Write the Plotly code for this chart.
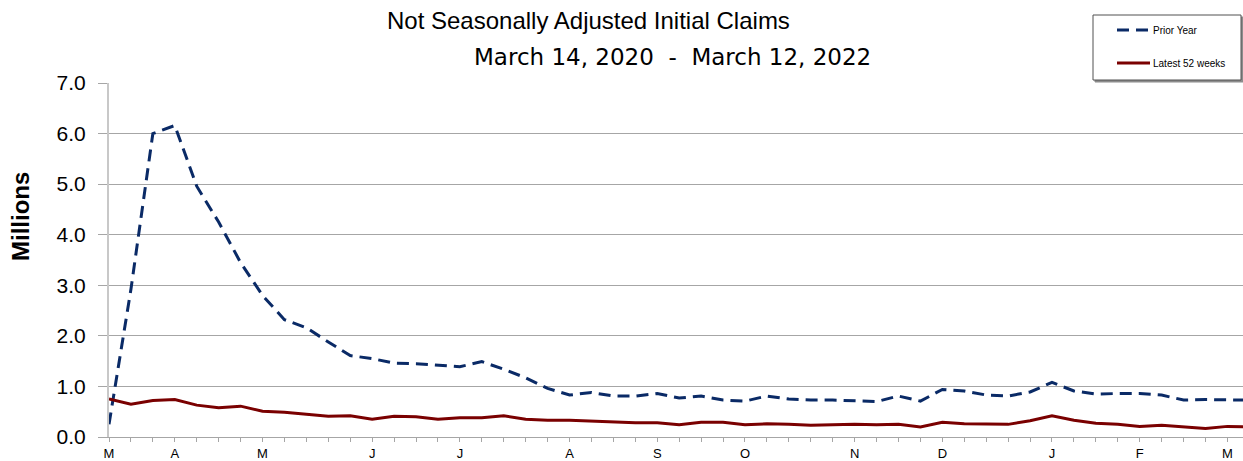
import plotly.graph_objects as go

# week index (0 = week ending Mar 13/14) ; 53 weekly points per series
weeks = list(range(53))

prior_year = [0.25, 2.92, 6.00, 6.16, 4.96, 4.25, 3.45, 2.80, 2.32, 2.16,
              1.88, 1.61, 1.55, 1.46, 1.45, 1.42, 1.39, 1.49, 1.34, 1.17,
              0.96, 0.83, 0.88, 0.81, 0.81, 0.86, 0.77, 0.81, 0.73, 0.71,
              0.81, 0.75, 0.73, 0.73, 0.71, 0.70, 0.81, 0.71, 0.94, 0.91,
              0.83, 0.81, 0.89, 1.08, 0.91, 0.85, 0.86, 0.86, 0.83, 0.73,
              0.74, 0.73, 0.73]

latest_52 = [0.75, 0.65, 0.72, 0.74, 0.63, 0.58, 0.61, 0.51, 0.49, 0.45,
             0.41, 0.42, 0.35, 0.41, 0.40, 0.35, 0.38, 0.38, 0.42, 0.35,
             0.33, 0.33, 0.31, 0.29, 0.28, 0.28, 0.24, 0.29, 0.29, 0.24,
             0.26, 0.25, 0.23, 0.24, 0.25, 0.24, 0.25, 0.20, 0.29, 0.26,
             0.25, 0.25, 0.32, 0.42, 0.33, 0.27, 0.25, 0.21, 0.23, 0.20,
             0.17, 0.21, 0.20]

series_names = ["Prior Year", "Latest 52 weeks"]

month_tick_weeks = [0, 3, 7, 12, 16, 21, 25, 29, 34, 38, 43, 47, 51]
month_tick_labels = ["M", "A", "M", "J", "J", "A", "S", "O", "N", "D", "J", "F", "M"]

y_ticks = [0, 1, 2, 3, 4, 5, 6, 7]

BLUE = "#0A2A66"
RED = "#7A0000"
GRID = "#A6A6A6"
FONT = "Liberation Sans, Arial, sans-serif"
WIDE = "DejaVu Sans, Verdana, sans-serif"
DASH = "12px,7px"

fig = go.Figure()
fig.add_trace(go.Scatter(
    x=weeks, y=prior_year, mode="lines", name=series_names[0],
    line=dict(color=BLUE, width=3, dash=DASH), showlegend=False,
))
fig.add_trace(go.Scatter(
    x=weeks, y=latest_52, mode="lines", name=series_names[1],
    line=dict(color=RED, width=3), showlegend=False,
))

# plot area: x 109..1243, y 83..437
L, R, T, B = 109, 0, 83, 24
W, H = 1243, 461
pw = W - L - R
ph = H - T - B


def px(xp):
    return (xp - L) / pw


def py(yp):
    return (H - B - yp) / ph


shapes = [
    # legend box with shadow
    dict(type="rect", xref="paper", yref="paper",
         x0=px(1095), x1=px(1243), y0=py(82), y1=py(17),
         line=dict(color="#8C8C8C", width=1), fillcolor="#8C8C8C"),
    dict(type="rect", xref="paper", yref="paper",
         x0=px(1093), x1=px(1241), y0=py(80), y1=py(15),
         line=dict(color="#505050", width=1), fillcolor="white"),
    # legend samples
    dict(type="line", xref="paper", yref="paper",
         x0=px(1117), x1=px(1150), y0=py(30), y1=py(30),
         line=dict(color=BLUE, width=3, dash=DASH)),
    dict(type="line", xref="paper", yref="paper",
         x0=px(1117), x1=px(1150), y0=py(63), y1=py(63),
         line=dict(color=RED, width=3)),
]

annotations = [
    dict(text="Not Seasonally Adjusted Initial Claims", xref="paper", yref="paper",
         x=px(588), y=py(20), xanchor="center", yanchor="middle", showarrow=False,
         font=dict(size=24, family=FONT, color="#000")),
    dict(text="March 14, 2020  -  March 12, 2022", xref="paper", yref="paper",
         x=px(672), y=py(57), xanchor="center", yanchor="middle", showarrow=False,
         font=dict(size=23, family=WIDE, color="#000")),
    dict(text="<b>Millions</b>", xref="paper", yref="paper",
         x=px(21), y=py(217), xanchor="center", yanchor="middle", showarrow=False,
         textangle=-90, font=dict(size=24, family=FONT, color="#000")),
    dict(text=series_names[0], xref="paper", yref="paper",
         x=px(1151), y=py(30), xanchor="left", yanchor="middle", showarrow=False,
         font=dict(size=10, family=FONT, color="#000")),
    dict(text=series_names[1], xref="paper", yref="paper",
         x=px(1151), y=py(63), xanchor="left", yanchor="middle", showarrow=False,
         font=dict(size=10, family=FONT, color="#000")),
]

fig.update_layout(
    width=W, height=H,
    margin=dict(l=L, r=R, t=T, b=B, pad=0, autoexpand=False),
    paper_bgcolor="white", plot_bgcolor="white",
    font=dict(family=FONT, color="#000000"),
    showlegend=False,
    xaxis=dict(
        range=[0, pw / 21.93],
        tickmode="array", tickvals=month_tick_weeks, ticktext=month_tick_labels,
        ticks="outside", ticklen=4, tickcolor=GRID, tickwidth=1,
        minor=dict(dtick=1, tick0=0, ticks="outside", ticklen=4, tickcolor=GRID, showgrid=False),
        showline=True, linecolor=GRID, linewidth=1,
        showgrid=False, zeroline=False, automargin=False,
        tickfont=dict(size=13, family=FONT, color="#000"),
        fixedrange=True,
    ),
    yaxis=dict(
        range=[0, 7], tickmode="array", tickvals=y_ticks,
        tickformat=".1f",
        ticks="outside", ticklen=9, tickcolor=GRID,
        showline=True, linecolor="#C8C8C8", linewidth=2,
        showgrid=True, gridcolor=GRID, gridwidth=1,
        zeroline=False, automargin=False,
        tickfont=dict(size=21, family=FONT, color="#000"),
        ticklabelstandoff=8,
        fixedrange=True,
    ),
    shapes=shapes,
    annotations=annotations,
)

fig.write_html(
    "out.html",
    config={"displayModeBar": False},
    post_script="document.body.style.margin='0px';document.body.style.overflow='hidden';",
)
